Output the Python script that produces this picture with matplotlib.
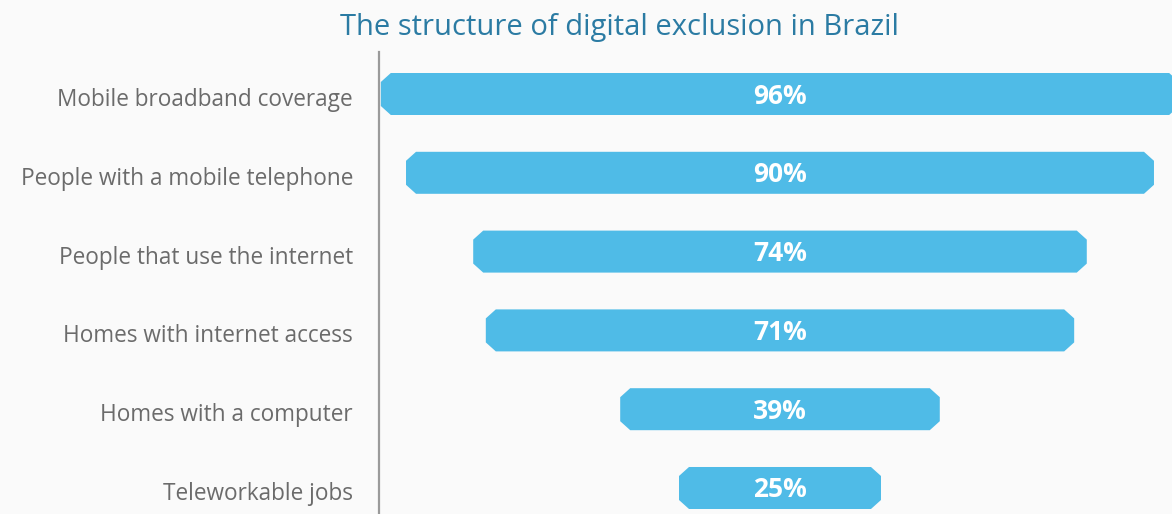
import matplotlib
matplotlib.use("Agg")
import matplotlib.pyplot as plt
from matplotlib.patches import Polygon
from matplotlib.transforms import blended_transform_factory

categories = [
    "Mobile broadband coverage",
    "People with a mobile telephone",
    "People that use the internet",
    "Homes with internet access",
    "Homes with a computer",
    "Teleworkable jobs",
]
values = [96, 90, 74, 71, 39, 25]
value_labels = ["96%", "90%", "74%", "71%", "39%", "25%"]
title = "The structure of digital exclusion in Brazil"

BG = "#fafafa"
BAR = "#4fbbe7"
TITLE_C = "#2b7ba3"
LABEL_C = "#6b6b6b"
AXIS_C = "#9a9a9a"
FONT = "Open Sans"

W, H, DPI = 1172, 514, 100
fig = plt.figure(figsize=(W / DPI, H / DPI), dpi=DPI, facecolor=BG)

# plot area: from the axis line to the right edge, below the title
ax_left, ax_right = 379, 1172
ax_top, ax_bottom = 52, 514
ax = fig.add_axes([ax_left / W, 1 - ax_bottom / H,
                   (ax_right - ax_left) / W, (ax_bottom - ax_top) / H])
ax.set_facecolor(BG)

center = 50.0
xlim = (2.26, 96.67)
ylim = (5.33, -0.533)
ax.set_xlim(*xlim)
ax.set_ylim(*ylim)

# pixel sizes converted to data units
px_per_x = (ax_right - ax_left) / (xlim[1] - xlim[0])
px_per_y = (ax_bottom - ax_top) / (ylim[0] - ylim[1])
cx = 10 / px_per_x          # chamfer width
cy = 9 / px_per_y           # chamfer height
inset = 4 / px_per_x        # small margin on each bar end
half_h = 21 / px_per_y

for i, v in enumerate(values):
    x0, x1 = center - v / 2 + inset, center + v / 2 - inset
    y0, y1 = i - half_h, i + half_h
    pts = [
        (x0 + cx, y0), (x1 - cx, y0), (x1, y0 + cy), (x1, y1 - cy),
        (x1 - cx, y1), (x0 + cx, y1), (x0, y1 - cy), (x0, y0 + cy),
    ]
    ax.add_patch(Polygon(pts, closed=True, facecolor=BAR, edgecolor="none"))
    ax.text(center, i + 2 / px_per_y, value_labels[i], ha="center", va="center",
            color="white", fontsize=19, fontweight="bold", family=FONT)

# category labels, right-aligned left of the axis line
lab_tr = blended_transform_factory(ax.transAxes, ax.transData)
lab_x = -26 / (ax_right - ax_left)
for i, name in enumerate(categories):
    ax.text(lab_x, i + 6 / px_per_y, name, transform=lab_tr, ha="right",
            va="center", color=LABEL_C, fontsize=16.3, family=FONT)

ax.set_xticks([])
ax.set_yticks([])
for s in ["top", "right", "bottom"]:
    ax.spines[s].set_visible(False)
ax.spines["left"].set_color(AXIS_C)
ax.spines["left"].set_linewidth(1.6)

fig.text(619 / W, 1 - 28 / H, title, ha="center", va="center",
         color=TITLE_C, fontsize=21, family=FONT)

fig.savefig("out.png", dpi=DPI, facecolor=BG)
